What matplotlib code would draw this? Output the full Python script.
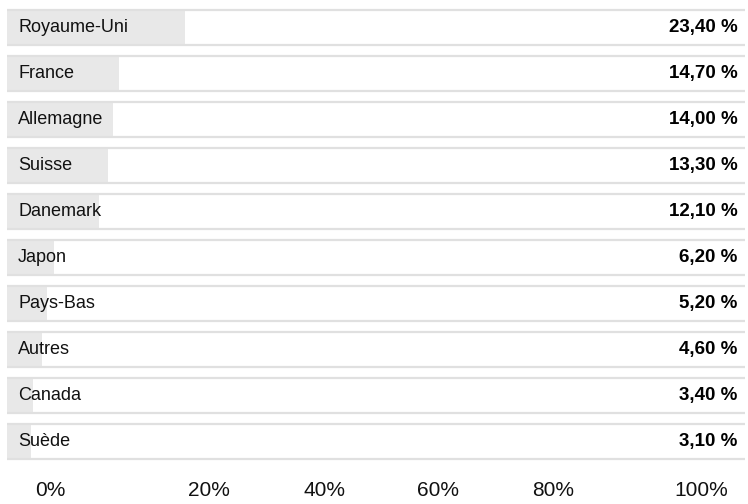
import matplotlib.pyplot as plt
import numpy as np

# --- data ---
countries = ['Royaume-Uni', 'France', 'Allemagne', 'Suisse', 'Danemark',
             'Japon', 'Pays-Bas', 'Autres', 'Canada', 'Suède']
shares = [23.4, 14.7, 14.0, 13.3, 12.1, 6.2, 5.2, 4.6, 3.4, 3.1]
tick_labels = ['0%', '20%', '40%', '60%', '80%', '100%']

plt.rcParams['font.family'] = ['Liberation Sans', 'DejaVu Sans']

W, H = 748, 504
fig = plt.figure(figsize=(W / 100, H / 100), dpi=100)
# rows span x 7..745 px, row centres from 27.5 px with a 46 px pitch
ax = fig.add_axes([7 / W, 1 - 464.5 / H, 738 / W, 460 / H])
xmax = 97.1  # the bars run a touch wider than the row frame

y = np.arange(len(countries))
ax.barh(y, shares, height=0.72, color='#e8e8e8', zorder=1)

half = 17.5 / 46
for yi in y:
    ax.plot([0, xmax], [yi - half, yi - half], color='#e0e0e0', lw=1.6,
            solid_capstyle='butt', zorder=2)
    ax.plot([0, xmax], [yi + half, yi + half], color='#e0e0e0', lw=1.6,
            solid_capstyle='butt', zorder=2)

for yi, name, v in zip(y, countries, shares):
    ax.text(1.45, yi, name, va='center', ha='left', fontsize=13, color='#111111')
    ax.text(xmax - 1.0, yi, f"{v:.2f} %".replace('.', ','), va='center',
            ha='right', fontsize=13.5, fontweight='bold', color='#000000')

ax.set_xlim(0, xmax)
ax.set_ylim(len(countries) - 0.5, -0.5)
ax.axis('off')

# axis labels sit below the rows, unevenly spaced as in the source
tick_px = [50, 209, 325, 438, 553, 701]
for px, lab in zip(tick_px, tick_labels):
    fig.text(px / W, 1 - 490 / H, lab, ha='center', va='center',
             fontsize=15, color='#111111')

fig.savefig('out.png', dpi=100)
